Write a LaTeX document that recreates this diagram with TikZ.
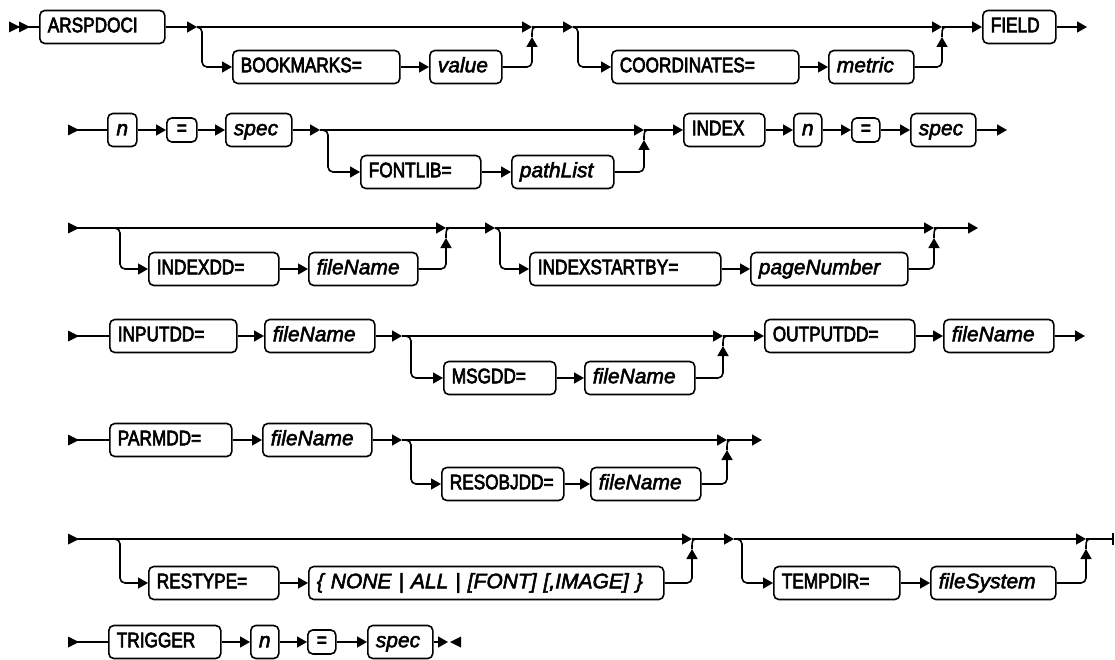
\documentclass[tikz,border=0pt]{standalone}
\usepackage{fontspec}
\setmainfont{Liberation Sans}
\newfontfamily\kwfam{Liberation Sans}[FakeStretch=0.82,FakeBold=3]
\newfontfamily\varfam{Liberation Sans}[FakeBold=2.5]
\usetikzlibrary{arrows.meta}
\begin{document}
\begin{tikzpicture}[x=1pt,y=-1pt,
  line/.style={line width=1.6pt},
  arr/.style={line,-{Triangle[length=10pt,width=11pt]}},
  box/.style={draw,line width=1.6pt,rounded corners=5pt,anchor=west,minimum height=33pt,inner xsep=8pt,inner ysep=0pt,text height=15pt,text depth=4.5pt,align=left},
  kw/.style={box,font=\kwfam\fontsize{21}{24}\selectfont},
  var/.style={box,font=\varfam\itshape\fontsize{21}{24}\selectfont},
  sm/.style={inner xsep=0pt,align=center},
  eq/.style={kw,sm,minimum height=24pt,text height=10pt,text depth=0pt},
  tri/.pic={\fill (0,-5.5) -- (11,0) -- (0,5.5) -- cycle;}]
\useasboundingbox (0,0) rectangle (1115,660);
% row 1
\pic at (9,27) {tri};
\pic at (19,27) {tri};
\coordinate (s1) at (9,27);
\node[kw,text width=109pt] (arsp) at (39,27) {ARSPDOCI};
\coordinate (t1) at (197,27);
\coordinate (b1) at (202,27);
\node[kw,text width=151pt] (bmk) at (232,67) {BOOKMARKS=};
\node[var,text width=56pt] (val) at (429,67) {value};
\coordinate (u1) at (532,27);
\coordinate (ua1) at (532,37);
\coordinate (h1) at (540,27);
\coordinate (t2) at (573,27);
\coordinate (b2) at (578,27);
\node[kw,text width=171pt] (crd) at (611,67) {COORDINATES=};
\node[var,text width=69pt] (met) at (828,67) {metric};
\coordinate (u2) at (942,27);
\coordinate (ua2) at (942,37);
\coordinate (h2) at (950,27);
\node[kw,text width=57pt] (fld) at (982,27) {FIELD};
\coordinate (e1) at (1087,27);
\draw[line] (s1) -- (arsp.west);
\draw[arr] (arsp.east) -- (t1);
\draw[arr] (t1) -- (u1);
\draw[arr,rounded corners=5pt] (t1) -- (b1) |- (bmk.west);
\draw[arr] (bmk.east) -- (val.west);
\draw[arr,rounded corners=5pt] (val.east) -| (ua1);
\draw[line] (ua1) .. controls (u1) .. (h1);
\draw[arr] (u1) -- (t2);
\draw[arr] (t2) -- (u2);
\draw[arr,rounded corners=5pt] (t2) -- (b2) |- (crd.west);
\draw[arr] (crd.east) -- (met.west);
\draw[arr,rounded corners=5pt] (met.east) -| (ua2);
\draw[line] (ua2) .. controls (u2) .. (h2);
\draw[arr] (u2) -- (fld.west);
\draw[arr] (fld.east) -- (e1);
% row 2
\pic at (68,130) {tri};
\coordinate (s2) at (68,130);
\node[var,sm,minimum width=29pt] (n1) at (107,130) {n};
\node[eq,minimum width=30pt] (eq1) at (166,130) {=};
\node[var,text width=50pt] (sp1) at (225,130) {spec};
\coordinate (t3) at (320,130);
\coordinate (b3) at (328,130);
\node[kw,text width=104pt] (flib) at (360,172) {FONTLIB=};
\node[var,text width=86pt] (pth) at (511,172) {pathList};
\coordinate (u3) at (644,130);
\coordinate (ua3) at (644,140);
\coordinate (h3) at (652,130);
\node[kw,text width=65pt] (idx) at (683,130) {INDEX};
\node[var,sm,minimum width=28pt] (n2) at (793,130) {n};
\node[eq,minimum width=28pt] (eq2) at (851,130) {=};
\node[var,text width=49pt] (sp2) at (910,130) {spec};
\coordinate (e2) at (1007,130);
\draw[line] (s2) -- (n1.west);
\draw[arr] (n1.east) -- (eq1.west);
\draw[arr] (eq1.east) -- (sp1.west);
\draw[arr] (sp1.east) -- (t3);
\draw[arr] (t3) -- (u3);
\draw[arr,rounded corners=5pt] (t3) -- (b3) |- (flib.west);
\draw[arr] (flib.east) -- (pth.west);
\draw[arr,rounded corners=5pt] (pth.east) -| (ua3);
\draw[line] (ua3) .. controls (u3) .. (h3);
\draw[arr] (u3) -- (idx.west);
\draw[arr] (idx.east) -- (n2.west);
\draw[arr] (n2.east) -- (eq2.west);
\draw[arr] (eq2.east) -- (sp2.west);
\draw[arr] (sp2.east) -- (e2);
% row 3
\pic at (68,228) {tri};
\coordinate (s3) at (68,228);
\coordinate (b4) at (120,228);
\node[kw,text width=114pt] (idd) at (148,269) {INDEXDD=};
\node[var,text width=93pt] (fn1) at (308,269) {fileName};
\coordinate (u4) at (446,228);
\coordinate (ua4) at (446,238);
\coordinate (h4) at (454,228);
\coordinate (t5) at (495,228);
\coordinate (b5) at (500,228);
\node[kw,text width=175pt] (isb) at (529,269) {INDEXSTARTBY=};
\node[var,text width=141pt] (pgn) at (750,269) {pageNumber};
\coordinate (u5) at (934,228);
\coordinate (ua5) at (934,238);
\coordinate (h5) at (942,228);
\coordinate (e3) at (978,228);
\draw[arr] (s3) -- (u4);
\draw[arr,rounded corners=5pt] (s3) -- (b4) |- (idd.west);
\draw[arr] (idd.east) -- (fn1.west);
\draw[arr,rounded corners=5pt] (fn1.east) -| (ua4);
\draw[line] (ua4) .. controls (u4) .. (h4);
\draw[arr] (u4) -- (t5);
\draw[arr] (t5) -- (u5);
\draw[arr,rounded corners=5pt] (t5) -- (b5) |- (isb.west);
\draw[arr] (isb.east) -- (pgn.west);
\draw[arr,rounded corners=5pt] (pgn.east) -| (ua5);
\draw[line] (ua5) .. controls (u5) .. (h5);
\draw[arr] (u5) -- (e3);
% row 4
\pic at (68,336) {tri};
\coordinate (s4) at (68,336);
\node[kw,text width=111pt] (inp) at (109,336) {INPUTDD=};
\node[var,text width=94pt] (fn2) at (264,336) {fileName};
\coordinate (t6) at (402,336);
\coordinate (b6) at (411,336);
\node[kw,text width=96pt] (msg) at (443,378) {MSGDD=};
\node[var,text width=94pt] (fn3) at (584,378) {fileName};
\coordinate (u6) at (723,336);
\coordinate (ua6) at (723,346);
\coordinate (h6) at (731,336);
\node[kw,text width=134pt] (out) at (764,336) {OUTPUTDD=};
\node[var,text width=94pt] (fn4) at (943,336) {fileName};
\coordinate (e4) at (1085,336);
\draw[line] (s4) -- (inp.west);
\draw[arr] (inp.east) -- (fn2.west);
\draw[arr] (fn2.east) -- (t6);
\draw[arr] (t6) -- (u6);
\draw[arr,rounded corners=5pt] (t6) -- (b6) |- (msg.west);
\draw[arr] (msg.east) -- (fn3.west);
\draw[arr,rounded corners=5pt] (fn3.east) -| (ua6);
\draw[line] (ua6) .. controls (u6) .. (h6);
\draw[arr] (u6) -- (out.west);
\draw[arr] (out.east) -- (fn4.west);
\draw[arr] (fn4.east) -- (e4);
% row 5
\pic at (68,440) {tri};
\coordinate (s5) at (68,440);
\node[kw,text width=106pt] (prm) at (109,440) {PARMDD=};
\node[var,text width=93pt] (fn5) at (262,440) {fileName};
\coordinate (t7) at (402,440);
\coordinate (b7) at (411,440);
\node[kw,text width=106pt] (rsb) at (441,484) {RESOBJDD=};
\node[var,text width=94pt] (fn6) at (590,484) {fileName};
\coordinate (u7) at (727,440);
\coordinate (ua7) at (727,450);
\coordinate (h7) at (735,440);
\coordinate (e5) at (762,440);
\draw[line] (s5) -- (prm.west);
\draw[arr] (prm.east) -- (fn5.west);
\draw[arr] (fn5.east) -- (t7);
\draw[arr] (t7) -- (u7);
\draw[arr,rounded corners=5pt] (t7) -- (b7) |- (rsb.west);
\draw[arr] (rsb.east) -- (fn6.west);
\draw[arr,rounded corners=5pt] (fn6.east) -| (ua7);
\draw[line] (ua7) .. controls (u7) .. (h7);
\draw[arr] (u7) -- (e5);
% row 6
\pic at (68,539) {tri};
\coordinate (s6) at (68,539);
\coordinate (b8) at (120,539);
\node[kw,text width=114pt] (rtp) at (148,583) {RESTYPE=};
\node[var,text width=339pt] (opt) at (308,583) {\{ NONE | ALL | [FONT] [,IMAGE] \}};
\coordinate (u8) at (692,539);
\coordinate (ua8) at (692,549);
\coordinate (h8) at (700,539);
\coordinate (t9) at (734,539);
\coordinate (b9) at (742,539);
\node[kw,text width=110pt] (tmp) at (773,583) {TEMPDIR=};
\node[var,text width=109pt] (fsy) at (930,583) {fileSystem};
\coordinate (u9) at (1086,539);
\coordinate (ua9) at (1086,549);
\coordinate (h9) at (1094,539);
\coordinate (r6) at (1113,539);
\draw[arr] (s6) -- (u8);
\draw[arr,rounded corners=5pt] (s6) -- (b8) |- (rtp.west);
\draw[arr] (rtp.east) -- (opt.west);
\draw[arr,rounded corners=5pt] (opt.east) -| (ua8);
\draw[line] (ua8) .. controls (u8) .. (h8);
\draw[arr] (u8) -- (t9);
\draw[arr] (t9) -- (u9);
\draw[arr,rounded corners=5pt] (t9) -- (b9) |- (tmp.west);
\draw[arr] (tmp.east) -- (fsy.west);
\draw[arr,rounded corners=5pt] (fsy.east) -| (ua9);
\draw[line] (ua9) .. controls (u9) .. (h9);
\draw[line] (u9) -- (r6);
\draw[line] ([yshift=-6pt]r6) -- ([yshift=6pt]r6);
% row 7
\pic at (68,642) {tri};
\coordinate (s7) at (68,642);
\node[kw,text width=96pt] (trg) at (108,642) {TRIGGER};
\node[var,sm,minimum width=28pt] (n3) at (250,642) {n};
\node[eq,minimum width=28pt] (eq3) at (307,642) {=};
\node[var,text width=49pt] (sp3) at (367,642) {spec};
\coordinate (e7) at (448,642);
\draw[line] (s7) -- (trg.west);
\draw[arr] (trg.east) -- (n3.west);
\draw[arr] (n3.east) -- (eq3.west);
\draw[arr] (eq3.east) -- (sp3.west);
\draw[arr] (sp3.east) -- (e7);
\pic[xscale=-1] at (461,642) {tri};
\end{tikzpicture}
\end{document}
